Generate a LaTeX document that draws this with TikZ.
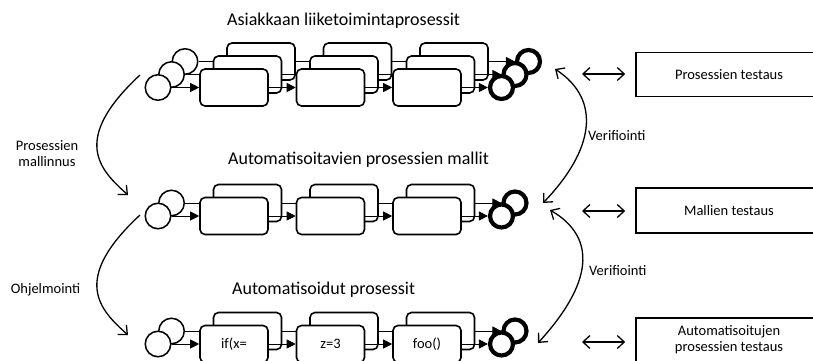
\documentclass[tikz,border=0pt]{standalone}
\usepackage{fontspec}
\setmainfont{Carlito}
\usetikzlibrary{arrows.meta}

\newcommand\titlefont{\fontsize{18}{21}\selectfont}
\newcommand\labelfont{\fontsize{14.5}{17}\selectfont}

\tikzset{
  startc/.style={circle, draw, fill=white, line width=1.5pt, minimum size=25.5pt, inner sep=0pt},
  endc/.style={circle, draw, fill=white, line width=4.2pt, minimum size=23pt, inner sep=0pt},
  stepbox/.style={rectangle, rounded corners=5pt, draw, fill=white, line width=1.6pt,
    minimum width=68pt, minimum height=37pt, inner sep=0pt, font=\labelfont},
  flow/.style={line width=0.9pt, -{Triangle[length=9pt,width=9pt]}},
  barb/.style={line width=1.3pt, -{Straight Barb[length=7pt,width=13pt]}},
  dbl/.style={line width=1.3pt, {Straight Barb[length=7pt,width=13pt]}-{Straight Barb[length=7pt,width=13pt]}},
  testbox/.style={rectangle, draw, line width=1.6pt, minimum width=186pt,
    minimum height=44pt, inner sep=0pt, align=center, font=\labelfont},
  lbl/.style={font=\labelfont, inner sep=0pt, align=center},
  ttl/.style={font=\titlefont, inner sep=0pt, anchor=base west},
}

% one process chain: start event, three tasks, end event
% #1 name prefix, #2 x shift, #3 y, #4-#6 task texts
\newcommand\chainlayer[6]{%
  \node[startc] (#1s) at ({158+#2},#3) {};
  \node[stepbox] (#1a) at ({234+#2},#3) {#4};
  \node[stepbox] (#1b) at ({330.5+#2},#3) {#5};
  \node[stepbox] (#1c) at ({427+#2},#3) {#6};
  \node[endc] (#1e) at ({501.5+#2},#3) {};
  \draw[flow] (#1s) -- (#1a);
  \draw[flow] (#1a) -- (#1b);
  \draw[flow] (#1b) -- (#1c);
  \draw[flow] (#1c) -- (#1e);
}

\begin{document}
\begin{tikzpicture}[x=1pt, y=-1pt]
\useasboundingbox (0,0) rectangle (813,361);
\clip (0,0) rectangle (813,361);

% titles
\node[ttl] (t1) at (227,26) {Asiakkaan liiketoimintaprosessit};
\node[ttl] (t2) at (228,164) {Automatisoitavien prosessien mallit};
\node[ttl] (t3) at (232,294) {Automatisoidut prosessit};

% customer processes: three stacked chains
\chainlayer{tc}{27}{61.5}{}{}{}
\chainlayer{tb}{13.5}{74.5}{}{}{}
\chainlayer{ta}{0}{87.5}{}{}{}

% models: two stacked chains
\chainlayer{mb}{13.5}{203}{}{}{}
\chainlayer{ma}{0}{216}{}{}{}

% automated processes: two stacked chains
\chainlayer{pb}{13.5}{331}{}{}{}
\chainlayer{pa}{0}{344}{if(x=}{z=3}{foo()}

% left side: modelling and programming
\coordinate (m0) at (140,75);
\coordinate (m1) at (128,195);
\coordinate (o0) at (140,215);
\coordinate (o1) at (128,335);
\draw[barb] (m0) .. controls (70,140) and (100,170) .. (m1);
\draw[barb] (o0) .. controls (70,280) and (100,310) .. (o1);
\node[lbl] (lm) at (47,153.5) {Prosessien\\[-0.5pt]mallinnus};
\node[lbl] (lo) at (45.5,290) {Ohjelmointi};

% right side: verification
\coordinate (v0) at (555,69);
\coordinate (v1) at (543,203);
\coordinate (w0) at (550,210);
\coordinate (w1) at (538,343);
\draw[dbl] (v0) .. controls (602,100) and (594,150) .. (v1);
\draw[dbl] (w0) .. controls (598,238) and (592,284) .. (w1);
\node[lbl, anchor=west] (lv1) at (588,136) {Verifiointi};
\node[lbl, anchor=west] (lv2) at (589,271) {Verifiointi};

% testing boxes
\node[testbox] (rb1) at (729,74.5) {Prosessien testaus};
\node[testbox, minimum height=45pt] (rb2) at (729,210.5) {Mallien testaus};
\node[testbox] (rb3) at (729,340) {Automatisoitujen\\[-1pt]prosessien testaus};

\coordinate (d1) at (582,74);
\coordinate (d2) at (582,211);
\coordinate (d3) at (582,342);
\draw[dbl, shorten >=10pt] (d1) -- (d1 -| rb1.west);
\draw[dbl, shorten >=10pt] (d2) -- (d2 -| rb2.west);
\draw[dbl, shorten >=10pt] (d3) -- (d3 -| rb3.west);
\end{tikzpicture}
\end{document}
